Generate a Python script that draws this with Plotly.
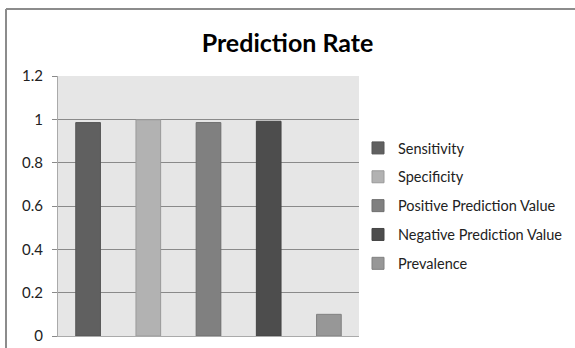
import plotly.graph_objects as go

categories = ["Sensitivity", "Specificity", "Positive Prediction Value",
              "Negative Prediction Value", "Prevalence"]
values = [0.985, 0.998, 0.985, 0.991, 0.10]
colors = ["#606060", "#b2b2b2", "#808080", "#4d4d4d", "#979797"]
line_colors = ["#555555", "#9a9a9a", "#6e6e6e", "#444444", "#808080"]
y_ticks = [0, 0.2, 0.4, 0.6, 0.8, 1.0, 1.2]
y_tick_labels = ["0", "0.2", "0.4", "0.6", "0.8", "1", "1.2"]

W, H = 575, 348
L, R, T, B = 58, 216, 76, 12
pw, ph = W - L - R, H - T - B

fig = go.Figure()
for i, (c, v) in enumerate(zip(categories, values)):
    fig.add_trace(go.Bar(
        x=[c], y=[v], name=c, legendgroup=c,
        marker=dict(color=colors[i], line=dict(color=line_colors[i], width=1)),
        hoverinfo="x+y",
    ))

def px_x(x):
    return (x - L) / pw

def px_y(y):
    return (H - B - y) / ph

border = dict(color="#8c8c8c", width=2)

fig.update_layout(
    width=W, height=H,
    margin=dict(l=L, r=R, t=T, b=B, autoexpand=False),
    paper_bgcolor="white",
    plot_bgcolor="#e6e6e6",
    barmode="overlay",
    bargap=0.59,
    font=dict(family="Lato, 'Open Sans', sans-serif", size=13, color="#222222"),
    title=dict(text="<b>Prediction Rate</b>", x=0.5, xanchor="center",
               y=1 - 43 / H, yanchor="middle",
               font=dict(family="Lato, sans-serif", size=25, color="#000000")),
    showlegend=True,
    legend=dict(x=px_x(358), y=px_y(132), xanchor="left", yanchor="top",
                font=dict(size=14.5, color="#222222"),
                tracegroupgap=7, itemwidth=30,
                bgcolor="rgba(0,0,0,0)"),
    xaxis=dict(showticklabels=False, showgrid=False, ticks="",
               showline=True, linecolor="#aaaaaa", linewidth=1,
               categoryorder="array", categoryarray=categories),
    yaxis=dict(range=[0, 1.2], tickvals=y_ticks, ticktext=y_tick_labels,
               showgrid=True, gridcolor="#8a8a8a", gridwidth=1,
               zeroline=False, showline=True, linecolor="#aaaaaa", linewidth=1,
               ticks="outside", ticklen=5, tickcolor="#8a8a8a",
               ticklabelstandoff=6,
               tickfont=dict(size=15, color="#222222")),
    shapes=[
        dict(type="line", xref="paper", yref="paper",
             x0=px_x(6), x1=px_x(575), y0=px_y(9), y1=px_y(9), line=border,
             layer="below"),
        dict(type="line", xref="paper", yref="paper",
             x0=px_x(6), x1=px_x(6), y0=px_y(9), y1=px_y(348), line=border,
             layer="below"),
    ],
)

fig.write_html("out.html", config={"displayModeBar": False},
               post_script="document.body.style.margin='0';document.body.style.overflow='hidden';")
